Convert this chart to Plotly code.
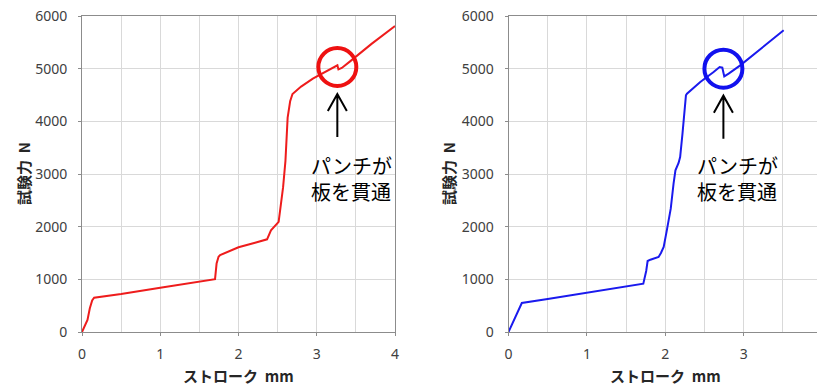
import plotly.graph_objects as go

# ---- data ----
stroke_red = [0, 0.03, 0.07, 0.10, 0.13, 0.155, 0.5, 1.0, 1.5, 1.70, 1.72, 1.745, 1.765, 1.85, 2.0, 2.2,
              2.365, 2.415, 2.45, 2.513, 2.57, 2.60, 2.628, 2.66, 2.69, 2.80, 2.95, 3.1, 3.234, 3.264,
              3.277, 3.32, 3.426, 3.7, 4.0]
force_red = [0, 90, 230, 450, 600, 650, 720, 840, 955, 1003, 1300, 1430, 1460, 1510, 1610, 1690,
             1760, 1930, 1995, 2090, 2750, 3250, 4070, 4380, 4520, 4660, 4810, 4930, 5045, 5063,
             4985, 5013, 5139, 5470, 5810]

stroke_blue = [0, 0.17, 0.5, 1.0, 1.5, 1.70, 1.72, 1.757, 1.775, 1.81, 1.915, 1.945, 1.98, 2.02, 2.07,
               2.106, 2.13, 2.17, 2.19, 2.22, 2.243, 2.264, 2.277, 2.447, 2.617, 2.694, 2.728, 2.753,
               2.809, 2.957, 3.511]
force_blue = [0, 551, 627, 743, 860, 905, 918, 1158, 1348, 1373, 1424, 1500, 1614, 1930, 2342,
              2816, 3070, 3209, 3323, 3766, 4146, 4494, 4525, 4747, 4937, 5032, 5019, 4854,
              4905, 5063, 5728]

x_ticks = [0, 1, 2, 3, 4]
y_ticks = [0, 1000, 2000, 3000, 4000, 5000, 6000]
x_title = "ストローク\u00a0\u00a0mm"
y_title = "試験力\u00a0\u00a0N"
note = "パンチが<br>板を貫通"
red_mark = (3.263, 5032)
blue_mark = (2.742, 5000)
red_note = (2.905, 2918)
blue_note = (2.376, 2918)

# page body adds an 8px offset; size the figure to the visible window
OFF = 8
W, H = 825 - OFF, 384 - OFF


def px(x):
    return (x - OFF) / W


def py(y):
    return (384 - y) / H


fig = go.Figure()
fig.add_trace(go.Scatter(x=stroke_red, y=force_red, mode="lines",
                         line=dict(color="#ee1c1c", width=2), xaxis="x", yaxis="y", showlegend=False))
fig.add_trace(go.Scatter(x=stroke_blue, y=force_blue, mode="lines",
                         line=dict(color="#1a1aee", width=2), xaxis="x2", yaxis="y2", showlegend=False))

tick_font = dict(family="Noto Sans, Open Sans, sans-serif", size=14, color="#404040")
common_x = dict(range=[0, 4], tickvals=x_ticks, showgrid=True, gridcolor="#d9d9d9", gridwidth=1,
                minor=dict(dtick=0.5, showgrid=True, gridcolor="#d9d9d9", gridwidth=1),
                showline=True, linecolor="#8c8c8c", linewidth=1, mirror=True,
                ticks="outside", ticklen=3, tickcolor="#8c8c8c", tickfont=tick_font,
                zeroline=False, ticklabelstandoff=6, fixedrange=True, automargin=False,
                ticklabeloverflow="allow")
common_y = dict(range=[0, 6000], tickvals=y_ticks, showgrid=True, gridcolor="#d9d9d9", gridwidth=1,
                showline=True, linecolor="#8c8c8c", linewidth=1, mirror=True,
                ticks="outside", ticklen=3, tickcolor="#8c8c8c", tickfont=tick_font,
                zeroline=False, ticklabelstandoff=8, fixedrange=True, automargin=False,
                ticklabeloverflow="allow")

yd = [py(332), py(16)]
fig.update_layout(
    width=W, height=H, margin=dict(l=0, r=0, t=0, b=0, autoexpand=False),
    paper_bgcolor="white", plot_bgcolor="white",
    xaxis=dict(domain=[px(82), px(395)], anchor="y", **common_x),
    yaxis=dict(domain=yd, anchor="x", **common_y),
    xaxis2=dict(domain=[px(508.5), px(822)], anchor="y2", **common_x),
    yaxis2=dict(domain=yd, anchor="x2", **common_y),
)

title_font = dict(family="Noto Sans CJK JP, sans-serif", size=15, color="#262626", weight="bold")
ann = []
for xc, yc_title_x in [((82 + 395) / 2, 23), ((508.5 + 822) / 2, 448)]:
    ann.append(dict(text=x_title, xref="paper", yref="paper", x=px(xc), y=py(375.5),
                    showarrow=False, font=title_font, xanchor="center", yanchor="middle"))
    ann.append(dict(text=y_title, xref="paper", yref="paper", x=px(yc_title_x), y=py(174),
                    showarrow=False, font=title_font, textangle=-90, xanchor="center", yanchor="middle"))

note_font = dict(family="Noto Sans CJK JP, sans-serif", size=20, color="black")
ann.append(dict(text=note, xref="x", yref="y", x=red_note[0], y=red_note[1], showarrow=False,
                font=note_font, align="left", xanchor="left", yanchor="middle"))
ann.append(dict(text=note, xref="x2", yref="y2", x=blue_note[0], y=blue_note[1], showarrow=False,
                font=note_font, align="left", xanchor="left", yanchor="middle"))
fig.update_layout(annotations=ann)

shapes = []
for (mx, my), xr, yr, col in [(red_mark, "x", "y", "#ee1111"), (blue_mark, "x2", "y2", "#1111ee")]:
    shapes.append(dict(type="circle", xref=xr, yref=yr, xsizemode="pixel", ysizemode="pixel",
                       xanchor=mx, yanchor=my, x0=-19, x1=19, y0=-19, y1=19,
                       line=dict(color=col, width=4)))
    # arrow (tip just below the circle), drawn in pixel offsets from the circle centre
    shapes.append(dict(type="path", xref=xr, yref=yr, xsizemode="pixel", ysizemode="pixel",
                       xanchor=mx, yanchor=my,
                       path="M0,-27 L0,-70 M-9.5,-44 L0,-27 L9.5,-44",
                       line=dict(color="black", width=2)))
fig.update_layout(shapes=shapes)

fig.write_html("out.html")
